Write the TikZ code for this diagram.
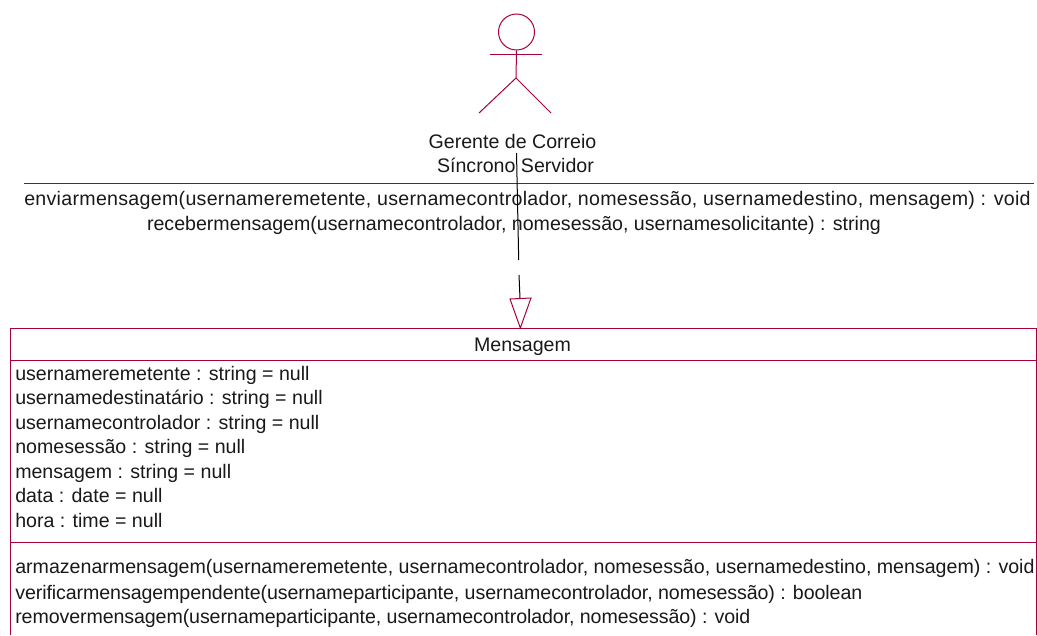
\documentclass[tikz,border=0pt]{standalone}
\usepackage{fontspec}
\setmainfont{Liberation Sans}
\definecolor{umlred}{RGB}{168,0,60}
\tikzset{
  uml/.style={draw=umlred,line width=0.75pt},
  conn/.style={draw=black,line width=0.75pt},
  txt/.style={inner sep=0pt,font=\fontsize{14.7pt}{17pt}\selectfont,text=black!90},
  lft/.style={txt,anchor=base west},
  ctr/.style={txt,anchor=base}
}
\begin{document}
\begin{tikzpicture}[x=0.75pt,y=-0.75pt]
\useasboundingbox (0,0) rectangle (1037,635);
% actor
\node[uml,circle,minimum size=36*0.75pt,inner sep=0pt] (head) at (516.5,32) {};
\coordinate (hip) at (516,78);
\coordinate (collarL) at (490,55);
\coordinate (collarR) at (542,55);
\coordinate (footL) at (479,113);
\coordinate (footR) at (551,113);
\draw[uml] (head.south) -- (hip);
\draw[uml] (collarL) -- (collarR);
\draw[uml] (footL) -- (hip) -- (footR);
\node[ctr] (a1) at (512.5,148) {Gerente de Correio};
\node[ctr] (a2) at (515.5,172) {Síncrono Servidor};
% actor operations
\coordinate (sepL) at (24,183);
\coordinate (sepR) at (1034,183);
\draw[uml] (sepL) -- (sepR);
\node[ctr] (o1) at (527.5,205) {\addfontfeature{LetterSpace=1.5}enviarmensagem(usernameremetente, usernamecontrolador, nomesessão, usernamedestino, mensagem) : void};
\node[ctr] (o2) at (514,230) {recebermensagem(usernamecontrolador, nomesessão, usernamesolicitante) : string};
% class box
\coordinate (boxTL) at (10,328);
\coordinate (boxTR) at (1036.5,328);
\coordinate (boxBL) at (10,635);
\coordinate (boxBR) at (1036.5,635);
\draw[uml] (boxBL) -- (boxTL) -- (boxTR) -- (boxBR);
\draw[uml] (10,360) -- (1036.5,360);
\draw[uml] (10,542) -- (1036.5,542);
\node[ctr] (cname) at (522.5,351) {Mensagem};
\node[lft] (f1) at (15,380) {usernameremetente : string = null};
\node[lft] (f2) at (15,404) {usernamedestinatário : string = null};
\node[lft] (f3) at (15,429) {usernamecontrolador : string = null};
\node[lft] (f4) at (15,453) {nomesessão : string = null};
\node[lft] (f5) at (15,478) {mensagem : string = null};
\node[lft] (f6) at (15,502) {data : date = null};
\node[lft] (f7) at (15,527) {hora : time = null};
\node[lft] (m1) at (15,573) {armazenarmensagem(usernameremetente, usernamecontrolador, nomesessão, usernamedestino, mensagem) : void};
\node[lft] (m2) at (15,599) {\addfontfeature{LetterSpace=-0.4}verificarmensagempendente(usernameparticipante, usernamecontrolador, nomesessão) : boolean};
\node[lft] (m3) at (15,623) {\addfontfeature{LetterSpace=-0.45}removermensagem(usernameparticipante, usernamecontrolador, nomesessão) : void};
% connector
\coordinate (c0) at (516.5,153);
\coordinate (c1) at (518.7,260);
\coordinate (c2) at (519,275);
\coordinate (c3) at (520,298.5);
\coordinate (t1) at (510,299);
\coordinate (t2) at (531,298);
\coordinate (t3) at (520.3,328);
\draw[conn] (c0) -- (c1);
\draw[conn] (c2) -- (c3);
\draw[uml] (t1) -- (t2) -- (t3) -- cycle;
\end{tikzpicture}
\end{document}
